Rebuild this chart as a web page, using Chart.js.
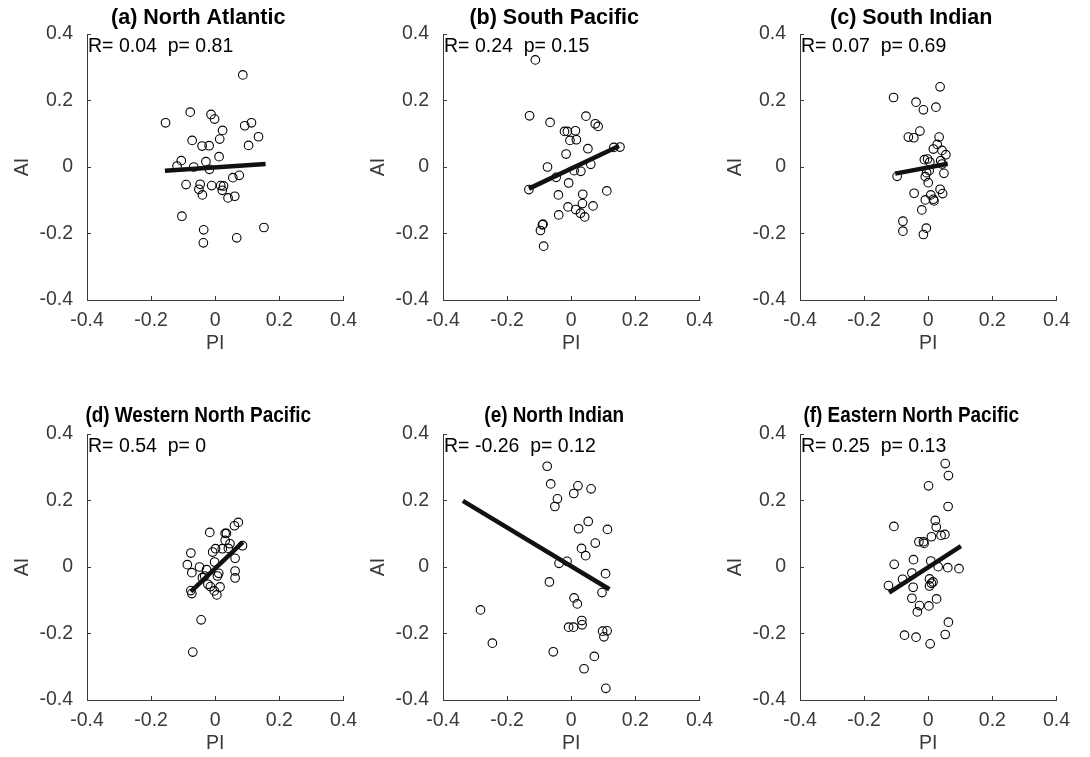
<!DOCTYPE html>
<html>
<head>
<meta charset="utf-8">
<script src="https://cdn.jsdelivr.net/npm/chart.js@4.4.1/dist/chart.umd.min.js"></script>
<style>
    body { margin: 0; background: #fff; }
    #wrap { position: relative; width: 1090px; height: 757px; overflow: hidden; }
    #wrap canvas { position: absolute; }
</style>
</head>
<body>
<div id="wrap"></div>
<script>
// values (PI on x, AI on y)
const naX = [0.086, -0.155, -0.078, -0.013, -0.002, 0.023, 0.113, 0.092, 0.135, 0.014, -0.072, -0.041, -0.019, 0.104, 0.012, -0.106, -0.119, -0.029, -0.067, -0.018, 0.075, 0.055, -0.091, -0.047, -0.051, -0.011, 0.017, 0.026, 0.022, -0.040, 0.040, 0.061, -0.104, -0.036, -0.037, 0.067, 0.152];
const naY = [0.277, 0.133, 0.165, 0.158, 0.144, 0.110, 0.133, 0.124, 0.091, 0.084, 0.080, 0.063, 0.064, 0.065, 0.031, 0.019, 0.003, 0.016, 0.000, -0.007, -0.025, -0.032, -0.053, -0.052, -0.067, -0.056, -0.056, -0.057, -0.070, -0.084, -0.093, -0.088, -0.148, -0.189, -0.228, -0.213, -0.182];

const spX = [-0.112, -0.130, -0.066, 0.046, 0.075, 0.084, -0.021, -0.012, 0.013, -0.004, 0.016, 0.052, 0.133, 0.152, -0.016, 0.061, -0.074, 0.009, 0.030, -0.047, -0.008, -0.132, 0.111, -0.040, 0.036, 0.035, -0.010, 0.014, 0.068, 0.029, 0.042, -0.039, -0.088, -0.090, -0.096, -0.086];
const spY = [0.322, 0.154, 0.134, 0.153, 0.130, 0.122, 0.107, 0.107, 0.109, 0.080, 0.082, 0.055, 0.059, 0.060, 0.039, 0.008, 0.000, -0.011, -0.013, -0.031, -0.048, -0.068, -0.072, -0.084, -0.082, -0.110, -0.120, -0.128, -0.117, -0.139, -0.150, -0.144, -0.172, -0.174, -0.191, -0.238];

const siX = [0.037, -0.108, -0.038, -0.015, 0.024, -0.026, -0.062, -0.045, 0.034, 0.028, 0.016, 0.043, 0.055, -0.012, -0.002, 0.005, 0.039, 0.043, 0.003, -0.005, -0.097, 0.049, -0.009, 0.000, 0.037, 0.045, -0.044, 0.008, 0.016, 0.018, -0.009, -0.020, -0.079, -0.079, -0.006, -0.015];
const siY = [0.241, 0.209, 0.195, 0.172, 0.180, 0.108, 0.090, 0.088, 0.090, 0.068, 0.054, 0.050, 0.037, 0.022, 0.024, 0.015, 0.019, 0.009, -0.011, -0.017, -0.028, -0.019, -0.029, -0.047, -0.067, -0.080, -0.079, -0.084, -0.097, -0.102, -0.099, -0.129, -0.163, -0.193, -0.184, -0.203];

const wnpX = [0.072, 0.060, -0.017, 0.031, 0.035, 0.031, 0.046, 0.085, 0.022, 0.001, -0.008, 0.041, -0.076, 0.062, -0.002, -0.087, -0.049, -0.027, -0.073, 0.062, 0.011, 0.007, -0.033, 0.062, -0.023, -0.015, 0.015, -0.003, 0.005, -0.076, -0.073, -0.044, -0.070, -0.040];
const wnpY = [0.134, 0.124, 0.104, 0.101, 0.101, 0.080, 0.070, 0.064, 0.055, 0.055, 0.045, 0.056, 0.042, 0.026, 0.015, 0.007, 0.000, -0.008, -0.017, -0.012, -0.019, -0.027, -0.027, -0.033, -0.052, -0.059, -0.060, -0.072, -0.084, -0.071, -0.080, -0.159, -0.256, -0.032];

const niX = [-0.075, -0.064, 0.021, 0.062, 0.008, -0.043, -0.051, 0.053, 0.023, 0.113, 0.075, 0.032, 0.045, -0.013, -0.038, 0.107, -0.068, 0.096, 0.009, 0.019, -0.283, 0.033, 0.034, -0.008, 0.007, 0.098, 0.112, 0.102, -0.246, -0.056, 0.072, 0.040, 0.108];
const niY = [0.303, 0.250, 0.244, 0.235, 0.221, 0.205, 0.182, 0.137, 0.115, 0.113, 0.072, 0.056, 0.034, 0.017, 0.011, -0.020, -0.045, -0.077, -0.093, -0.111, -0.129, -0.161, -0.174, -0.181, -0.181, -0.193, -0.192, -0.210, -0.229, -0.255, -0.269, -0.306, -0.365];

const enpX = [0.053, 0.063, 0.001, 0.062, -0.107, 0.022, 0.025, 0.040, 0.052, 0.010, -0.029, -0.015, -0.013, -0.046, 0.008, -0.106, 0.031, 0.061, 0.096, -0.051, -0.080, 0.004, 0.015, 0.010, 0.004, -0.124, -0.047, -0.051, 0.026, -0.027, 0.002, -0.034, 0.063, 0.053, -0.074, -0.038, 0.006];
const enpY = [0.311, 0.275, 0.244, 0.182, 0.122, 0.140, 0.120, 0.095, 0.098, 0.091, 0.076, 0.076, 0.071, 0.022, 0.018, 0.008, 0.001, -0.002, -0.005, -0.018, -0.037, -0.036, -0.045, -0.049, -0.057, -0.056, -0.061, -0.094, -0.096, -0.116, -0.117, -0.135, -0.166, -0.203, -0.205, -0.211, -0.231];

// regression line end points, per panel
const fitX = [[-0.157, 0.157], [-0.132, 0.149], [-0.103, 0.061], [-0.076, 0.086], [-0.338, 0.119], [-0.122, 0.102]];
const fitY = [[-0.011, 0.009], [-0.065, 0.063], [-0.020, 0.010], [-0.074, 0.075], [0.199, -0.067], [-0.077, 0.063]];

const titles = ["(a) North Atlantic", "(b) South Pacific", "(c) South Indian",
    "(d) Western North Pacific", "(e) North Indian", "(f) Eastern North Pacific"];
const rVals = ["0.04", "0.24", "0.07", "0.54", "-0.26", "0.25"];
const pVals = ["0.81", "0.15", "0.69", "0", "0.12", "0.13"];
const tickVals = [-0.4, -0.2, 0, 0.2, 0.4];

const pointsX = [naX, spX, siX, wnpX, niX, enpX];
const pointsY = [naY, spY, siY, wnpY, niY, enpY];

const FONT = "'Liberation Sans', Arial, Helvetica, sans-serif";
const AXIS = '#3a3a3a';

// plot area of each panel on the page
const colLeft = [87, 443, 800];
const rowTop = [34, 434];
const plotW = 263, plotH = 266;
const padL = 90, padT = 40, padR = 20, padB = 60;

function toXY(xs, ys) {
    var out = [];
    for (var i = 0; i < xs.length; i++) {
        out.push({x: xs[i], y: ys[i]});
    }
    return out;
}

function tickLabel(v) {
    return Math.abs(v) < 1e-9 ? '0' : v.toFixed(1);
}

// panel title above the axes and the R/p note in the top left corner
const panelText = {
    id: 'panelText',
    afterDraw(chart, args, opts) {
        const ctx = chart.ctx;
        const a = chart.chartArea;
        const cx = (a.left + a.right) / 2 - 17;
        ctx.save();
        ctx.fillStyle = '#000';
        ctx.textAlign = 'center';
        ctx.textBaseline = 'middle';
        ctx.font = 'bold 21.5px ' + FONT;
        ctx.save();
        ctx.translate(cx, a.top - opts.titleGap);
        ctx.scale(opts.squeeze, 1);
        ctx.fillText(opts.title, 0, 0);
        ctx.restore();
        ctx.textAlign = 'left';
        ctx.font = '19.5px ' + FONT;
        ctx.fillText(opts.note, a.left + 1, a.top + 12.5);
        ctx.restore();
    }
};

function axisOpts(label, horizontal) {
    return {
        type: 'linear',
        position: horizontal ? 'bottom' : 'left',
        min: -0.4,
        max: 0.4,
        afterBuildTicks: function(scale) {
            scale.ticks = tickVals.map(function(v) { return {value: v}; });
        },
        ticks: {
            color: AXIS,
            font: {family: FONT, size: 19.5},
            padding: horizontal ? 13 : 18,
            autoSkip: false,
            maxRotation: 0,
            callback: tickLabel
        },
        grid: {drawOnChartArea: false, tickLength: -4, color: AXIS},
        border: {display: true, color: AXIS, width: 1},
        title: {
            display: true,
            text: label,
            color: AXIS,
            font: {family: FONT, size: 19.5},
            padding: horizontal ? {top: 0, bottom: 5} : {top: 14, bottom: 0}
        },
        afterFit: function(scale) {
            if (horizontal) scale.height = padB;
            else scale.width = padL;
        }
    };
}

function makePanel(i) {
    var canvas = document.createElement('canvas');
    var row = Math.floor(i / 3);
    var left = colLeft[i % 3] - padL;
    var top = rowTop[row] - padT;
    canvas.width = plotW + padL + padR;
    canvas.height = plotH + padT + padB;
    canvas.style.left = left + 'px';
    canvas.style.top = top + 'px';
    canvas.style.width = canvas.width + 'px';
    canvas.style.height = canvas.height + 'px';
    document.getElementById('wrap').appendChild(canvas);

    new Chart(canvas, {
        type: 'scatter',
        data: {
            datasets: [
                {
                    data: toXY(fitX[i], fitY[i]),
                    showLine: true,
                    borderColor: '#111',
                    borderWidth: 4.5,
                    pointRadius: 0,
                    order: 0
                },
                {
                    data: toXY(pointsX[i], pointsY[i]),
                    pointStyle: 'circle',
                    pointRadius: 4.3,
                    pointBorderWidth: 1.1,
                    borderColor: '#000',
                    backgroundColor: 'rgba(0,0,0,0)',
                    order: 1
                }
            ]
        },
        options: {
            responsive: false,
            animation: false,
            layout: {padding: {left: 0, top: padT, right: padR, bottom: 0}},
            plugins: {
                legend: {display: false},
                tooltip: {enabled: false},
                panelText: {
                    title: titles[i],
                    note: 'R= ' + rVals[i] + '  p= ' + pVals[i],
                    squeeze: row === 0 ? 1 : 0.88,
                    titleGap: row === 0 ? 16 : 18
                }
            },
            scales: {
                x: axisOpts('PI', true),
                y: axisOpts('AI', false)
            }
        },
        plugins: [panelText]
    });
}

for (var i = 0; i < 6; i++) {
    makePanel(i);
}
</script>
</body>
</html>
